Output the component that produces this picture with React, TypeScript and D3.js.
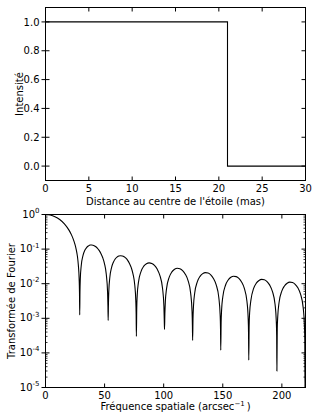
import React, { useRef, useEffect } from 'react';
import * as d3 from 'd3';

// Profil radial de l'étoile (disque uniforme de rayon 21 mas)
const profileRadius = [0, 21, 30];
const profileIntensity = [1, 0, 0];

// Module de la transformée de Fourier, relevé lobe par lobe [fréquence, amplitude]
const lobe1 = [[0, 1], [4, 0.966], [8, 0.867], [12, 0.718], [16, 0.537], [20, 0.348], [22, 0.258], [24, 0.173], [25, 0.134], [26, 0.097], [27, 0.062], [27.8, 0.034], [28.46, 0.0139], [28.76, 0.0056], [28.96, 0.00126]];
const lobe2 = [[29.16, 0.0056], [29.46, 0.0139], [30.23, 0.033], [31.75, 0.066], [33.26, 0.092], [34.77, 0.111], [36.28, 0.123], [37.79, 0.131], [39.3, 0.132], [40.82, 0.128], [42.33, 0.119], [43.84, 0.107], [45.35, 0.092], [46.86, 0.075], [48.37, 0.057], [49.89, 0.038], [51.4, 0.019], [52.53, 0.0057], [52.83, 0.0023], [53.03, 0.00087]];
const lobe3 = [[53.23, 0.0023], [53.53, 0.0057], [54.42, 0.0151], [55.93, 0.0296], [57.45, 0.0419], [58.96, 0.0516], [60.47, 0.0587], [61.98, 0.0629], [63.49, 0.0645], [65.0, 0.0634], [66.52, 0.06], [68.03, 0.0545], [69.54, 0.0473], [71.05, 0.0386], [72.56, 0.0291], [74.07, 0.0189], [75.59, 0.0087], [76.4, 0.0033], [76.7, 0.0013], [76.9, 0.0003]];
const lobe4 = [[77.2, 0.0019], [77.6, 0.0046], [78.61, 0.0107], [80.88, 0.0228], [83.14, 0.0321], [85.41, 0.0379], [87.68, 0.04], [89.95, 0.0384], [92.21, 0.0337], [94.48, 0.0264], [96.75, 0.0174], [99.02, 0.0074], [100.2, 0.0022], [100.5, 0.00087], [100.7, 0.00048]];
const lobe5 = [[101.0, 0.0013], [101.4, 0.003], [102.42, 0.0072], [104.69, 0.0155], [106.95, 0.022], [109.22, 0.0262], [111.49, 0.0279], [113.76, 0.027], [116.02, 0.0239], [118.29, 0.0188], [120.56, 0.0125], [122.83, 0.0053], [124.0, 0.0016], [124.3, 0.00063], [124.5, 0.00023]];
const lobe6 = [[124.8, 0.00095], [125.2, 0.0022], [126.23, 0.0053], [128.5, 0.0115], [130.76, 0.0163], [133.03, 0.0195], [135.3, 0.0209], [137.57, 0.0203], [139.83, 0.018], [142.1, 0.0142], [144.37, 0.0094], [146.64, 0.004], [147.8, 0.0012], [148.1, 0.00049], [148.3, 0.00012]];
const lobe7 = [[148.6, 0.00073], [149.0, 0.0017], [150.04, 0.0042], [152.31, 0.009], [154.57, 0.0128], [156.84, 0.0153], [159.11, 0.0164], [161.38, 0.016], [163.64, 0.0142], [165.91, 0.0112], [168.18, 0.0074], [170.45, 0.0031], [171.5, 0.00097], [171.8, 0.00039], [172.0, 0.000062]];
const lobe8 = [[172.3, 0.00058], [172.7, 0.0014], [173.85, 0.0034], [176.11, 0.0073], [178.38, 0.0104], [180.65, 0.0124], [182.92, 0.0133], [185.19, 0.013], [187.45, 0.0115], [189.72, 0.0091], [191.99, 0.006], [194.26, 0.0025], [195.3, 0.0008], [195.6, 0.00032], [195.8, 0.00003]];
const lobe9 = [[196.1, 0.00048], [196.5, 0.0011], [197.66, 0.0029], [199.92, 0.0061], [202.19, 0.0086], [204.46, 0.0103], [206.73, 0.0111], [209.0, 0.0108], [211.26, 0.0096], [213.53, 0.0076], [215.8, 0.005], [218.07, 0.002], [219.1, 0.00062], [219.4, 0.00022], [219.56, 0.000008], [220, 0.00059]];

const radiusTicks = [0, 5, 10, 15, 20, 25, 30];
const intensityTicks = [0, 0.2, 0.4, 0.6, 0.8, 1.0];
const freqTicks = [0, 50, 100, 150, 200];
const decadeExponents = [0, -1, -2, -3, -4, -5];

const W = 313;
const H = 416;
const FONT = "'DejaVu Sans', sans-serif";

const App = () => {
    const svgRef = useRef<SVGSVGElement>(null);

    useEffect(() => {
        document.body.style.margin = '0';
        const svg = d3.select(svgRef.current)
            .attr('width', W)
            .attr('height', H);

        svg.selectAll('*').remove();
        svg.append('rect').attr('width', W).attr('height', H).attr('fill', 'white');

        const left = 45.5, right = 305.5;
        const top1 = 7.5, bottom1 = 180.5;
        const top2 = 214.5, bottom2 = 387.5;

        const defs = svg.append('defs');
        defs.append('clipPath').attr('id', 'clip1')
            .append('rect').attr('x', left).attr('y', top1).attr('width', right - left).attr('height', bottom1 - top1);
        defs.append('clipPath').attr('id', 'clip2')
            .append('rect').attr('x', left).attr('y', top2).attr('width', right - left).attr('height', bottom2 - top2);

        // ---------- panneau du haut : profil d'intensité
        const x1 = d3.scaleLinear().domain([0, 30]).range([left, right]);
        const y1 = d3.scaleLinear().domain([-0.1, 1.1]).range([bottom1, top1]);
        const g1 = svg.append('g');

        const profile = profileRadius.map((r, i) => [r, profileIntensity[i]]);
        g1.append('path')
            .datum(profile)
            .attr('clip-path', 'url(#clip1)')
            .attr('fill', 'none')
            .attr('stroke', 'black')
            .attr('stroke-width', 1.1)
            .attr('d', d3.line<number[]>().x(d => x1(d[0])).y(d => y1(d[1])).curve(d3.curveStepAfter));

        radiusTicks.forEach(t => {
            const xx = x1(t);
            g1.append('line').attr('x1', xx).attr('x2', xx).attr('y1', bottom1).attr('y2', bottom1 - 4).attr('stroke', 'black');
            g1.append('line').attr('x1', xx).attr('x2', xx).attr('y1', top1).attr('y2', top1 + 4).attr('stroke', 'black');
            g1.append('text').attr('x', xx).attr('y', bottom1 + 11.3)
                .attr('text-anchor', 'middle').attr('font-family', FONT).attr('font-size', 10)
                .text(t);
        });
        intensityTicks.forEach(t => {
            const yy = y1(t);
            g1.append('line').attr('x1', left - 4).attr('x2', left + 4).attr('y1', yy).attr('y2', yy).attr('stroke', 'black');
            g1.append('line').attr('x1', right).attr('x2', right - 4).attr('y1', yy).attr('y2', yy).attr('stroke', 'black');
            g1.append('text').attr('x', left - 6).attr('y', yy + 3.6)
                .attr('text-anchor', 'end').attr('font-family', FONT).attr('font-size', 10)
                .text(d3.format('.1f')(t));
        });
        g1.append('rect').attr('x', left).attr('y', top1).attr('width', right - left).attr('height', bottom1 - top1)
            .attr('fill', 'none').attr('stroke', 'black');

        g1.append('text')
            .attr('x', (left + right) / 2).attr('y', 205)
            .attr('text-anchor', 'middle').attr('font-family', FONT).attr('font-size', 10)
            .text("Distance au centre de l'étoile (mas)");
        g1.append('text')
            .attr('transform', `translate(23, ${(top1 + bottom1) / 2}) rotate(-90)`)
            .attr('text-anchor', 'middle').attr('font-family', FONT).attr('font-size', 10)
            .text('Intensité');

        // ---------- panneau du bas : transformée de Fourier (échelle log)
        const x2 = d3.scaleLinear().domain([0, 220]).range([left, right]);
        const y2 = d3.scaleLog().domain([1e-5, 1]).range([bottom2, top2]);
        const g2 = svg.append('g');

        const fourier = [...lobe1, ...lobe2, ...lobe3, ...lobe4, ...lobe5, ...lobe6, ...lobe7, ...lobe8, ...lobe9];
        g2.append('path')
            .datum(fourier)
            .attr('clip-path', 'url(#clip2)')
            .attr('fill', 'none')
            .attr('stroke', 'black')
            .attr('stroke-width', 1.1)
            .attr('d', d3.line<number[]>().x(d => x2(d[0])).y(d => y2(d[1])).curve(d3.curveMonotoneX));

        freqTicks.forEach(t => {
            const xx = x2(t);
            g2.append('line').attr('x1', xx).attr('x2', xx).attr('y1', bottom2).attr('y2', bottom2 - 4).attr('stroke', 'black');
            g2.append('line').attr('x1', xx).attr('x2', xx).attr('y1', top2).attr('y2', top2 + 4).attr('stroke', 'black');
            g2.append('text').attr('x', xx).attr('y', bottom2 + 11.3)
                .attr('text-anchor', 'middle').attr('font-family', FONT).attr('font-size', 10)
                .text(t);
        });

        // graduations mineures du log
        y2.ticks().filter(v => Math.abs(Math.log10(v) - Math.round(Math.log10(v))) > 1e-6).forEach(v => {
            const yy = y2(v);
            g2.append('line').attr('x1', left).attr('x2', left + 2).attr('y1', yy).attr('y2', yy).attr('stroke', 'black').attr('stroke-width', 0.8);
            g2.append('line').attr('x1', right).attr('x2', right - 2).attr('y1', yy).attr('y2', yy).attr('stroke', 'black').attr('stroke-width', 0.8);
        });

        decadeExponents.forEach(e => {
            const yy = y2(Math.pow(10, e));
            g2.append('line').attr('x1', left - 4).attr('x2', left + 4).attr('y1', yy).attr('y2', yy).attr('stroke', 'black');
            g2.append('line').attr('x1', right).attr('x2', right - 4).attr('y1', yy).attr('y2', yy).attr('stroke', 'black');
            const lab = g2.append('text').attr('x', left - 6).attr('y', yy + 3)
                .attr('text-anchor', 'end').attr('font-family', FONT).attr('font-size', 10);
            lab.append('tspan').text('10');
            lab.append('tspan').attr('dy', -4.5).attr('font-size', 7).text(e === 0 ? '0' : `-${-e}`);
        });
        g2.append('rect').attr('x', left).attr('y', top2).attr('width', right - left).attr('height', bottom2 - top2)
            .attr('fill', 'none').attr('stroke', 'black');

        const xl = g2.append('text')
            .attr('x', (left + right) / 2).attr('y', 409.5)
            .attr('text-anchor', 'middle').attr('font-family', FONT).attr('font-size', 10);
        xl.append('tspan').text('Fréquence spatiale (arcsec');
        xl.append('tspan').attr('dy', -4).attr('font-size', 7).text('\u22121');
        xl.append('tspan').attr('dy', 4).text('\u2009)');

        g2.append('text')
            .attr('transform', `translate(15, ${(top2 + bottom2) / 2}) rotate(-90)`)
            .attr('text-anchor', 'middle').attr('font-family', FONT).attr('font-size', 10)
            .text('Transformée de Fourier');

    }, []);

    return (
        <svg ref={svgRef}></svg>
    );
}

export default App;
